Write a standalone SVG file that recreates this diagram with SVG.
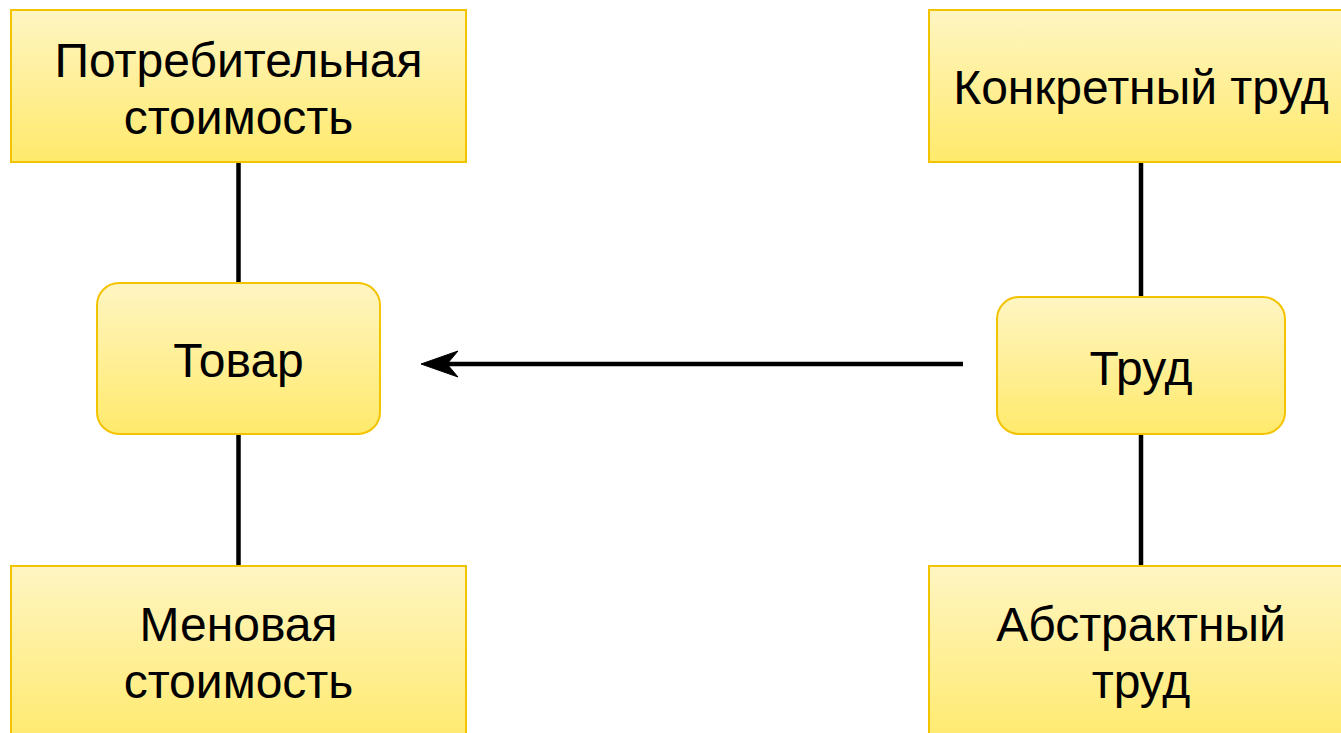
<svg xmlns="http://www.w3.org/2000/svg" width="1341" height="733" viewBox="0 0 1341 733">
<style>
.box{fill:url(#g);stroke:#f4c300;stroke-width:2}
.t{font-family:"Liberation Sans",Arial,sans-serif;font-size:48px;fill:#000;text-anchor:middle}
.c{stroke:#000;stroke-width:4.5;fill:none}
</style>
<defs>
<linearGradient id="g" x1="0" y1="0" x2="0" y2="1">
<stop offset="0" stop-color="#fff5c2"/>
<stop offset="1" stop-color="#ffea6c"/>
</linearGradient>
</defs>
<rect width="1341" height="733" fill="#fff"/>
<g id="connectors">
<line class="c" x1="238.5" y1="162" x2="238.5" y2="283"/>
<line class="c" x1="238.5" y1="434" x2="238.5" y2="566"/>
<line class="c" x1="1141" y1="162" x2="1141" y2="297"/>
<line class="c" x1="1141" y1="434" x2="1141" y2="566"/>
<line class="c" x1="447" y1="364" x2="963" y2="364"/>
<path d="M421,364 L458,351 L447,364 L458,377 Z" fill="#000" stroke="#000" stroke-width="1"/>
</g>
<g id="use-value">
<rect class="box" x="11" y="10" width="455" height="152"/>
<text class="t" x="238.5" y="77">Потребительная</text>
<text class="t" x="238.5" y="134">стоимость</text>
</g>
<g id="concrete-labor">
<rect class="box" x="929" y="10" width="424" height="152"/>
<text class="t" x="1141" y="104">Конкретный труд</text>
</g>
<g id="commodity">
<rect class="box" x="97" y="283" width="283" height="151" rx="22"/>
<text class="t" x="238.5" y="377">Товар</text>
</g>
<g id="labor">
<rect class="box" x="997" y="297" width="288" height="137" rx="22"/>
<text class="t" x="1141" y="385">Труд</text>
</g>
<g id="exchange-value">
<rect class="box" x="11" y="566" width="455" height="180"/>
<text class="t" x="238.5" y="641">Меновая</text>
<text class="t" x="238.5" y="698">стоимость</text>
</g>
<g id="abstract-labor">
<rect class="box" x="929" y="566" width="424" height="180"/>
<text class="t" x="1141" y="641">Абстрактный</text>
<text class="t" x="1141" y="698">труд</text>
</g>
</svg>
